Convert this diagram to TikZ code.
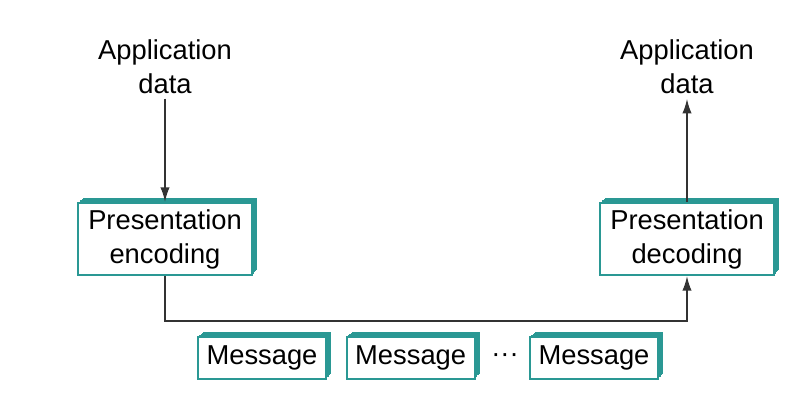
\documentclass[tikz,border=0pt]{standalone}
\usepackage{fontspec}
\setmainfont{Liberation Sans}
\usetikzlibrary{arrows.meta, positioning, shadows}
\definecolor{boxteal}{RGB}{42,152,148}
\tikzset{
  ext/.style={drop shadow={shadow xshift=#1,shadow yshift=#1,fill=boxteal,opacity=1}},
  box/.style={rectangle,draw=boxteal,line width=1.5pt,fill=white,align=center,inner sep=2pt,minimum width=131pt,minimum height=54pt,
    ext=1pt,ext=2pt,ext=3pt,ext=3.8pt},
  msg/.style={box,minimum width=96pt,minimum height=32pt},
  txt/.style={align=center},
  line/.style={-{Latex[length=11pt,width=7pt]},line width=1.3pt,draw=black!80}
}
\begin{document}
\begin{tikzpicture}[x=0.75pt,y=-0.75pt,font=\fontsize{20.5}{25.5}\selectfont]
\useasboundingbox (0,0) rectangle (808,402);
\node[box] (enc) at (165,239) {Presentation\\encoding};
\node[box] (dec) at (687,239) {Presentation\\decoding};
\node[txt] (appin) at (165,67) {Application\\data};
\node[txt] (appout) at (687,67) {Application\\data};
\node[msg] (m1) at (262,358) {Message};
\node[msg, right=14pt of m1] (m2) {Message};
\node[msg] (m3) at (594,358) {Message};
\node (dots) at (505,358) {···};
\draw[line] (appin) -- (enc);
\draw[line] (dec) -- (appout);
\draw[line] (enc.south) -- ++(0,45) -| (dec.south);
\end{tikzpicture}
\end{document}
